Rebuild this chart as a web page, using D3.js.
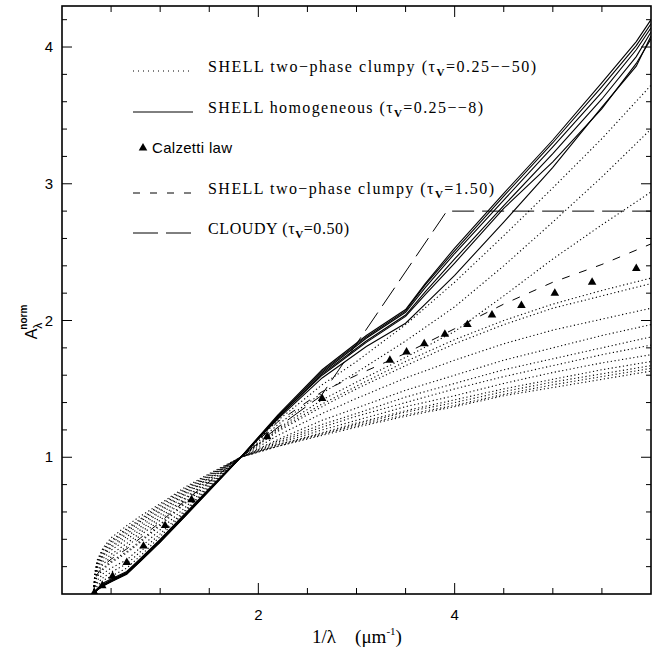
<!DOCTYPE html>
<html><head><meta charset="utf-8">
<script src="https://cdn.jsdelivr.net/npm/d3@7"></script>
<style>body{margin:0;background:#fff} svg{display:block}</style>
</head><body>
<svg id="c" width="660" height="651"></svg>
<script>
// ---------------- data ----------------
const xMajorTicks = [2, 4];
const xMinorTicks = [0.5, 1, 1.5, 2.5, 3, 3.5, 4.5, 5, 5.5];
const yMajorTicks = [1, 2, 3, 4];
const yMinorTicks = [0.2, 0.4, 0.6, 0.8, 1.2, 1.4, 1.6, 1.8, 2.2, 2.4, 2.6, 2.8, 3.2, 3.4, 3.6, 3.8, 4.2];

// SHELL two-phase clumpy, tau_V = 0.25 -- 50 (dotted)
const clumpyX = [0.32,0.335,0.36,0.42,0.5,0.66,0.8,1.0,1.25,1.5,1.82,2.2,2.65,3.0,3.5,4.0,4.5,5.0,5.5,6.0];
const clumpyCurves = [
  [0,0.03,0.06,0.10,0.13,0.19,0.28,0.42,0.60,0.78,1.0,1.27,1.53,1.70,1.97,2.28,2.62,2.97,3.33,3.72],
  [0,0.05,0.08,0.12,0.16,0.22,0.31,0.44,0.61,0.79,1.0,1.24,1.47,1.62,1.85,2.10,2.40,2.72,3.05,3.40],
  [0,0.06,0.10,0.15,0.19,0.25,0.34,0.47,0.63,0.80,1.0,1.21,1.42,1.55,1.73,1.92,2.18,2.45,2.70,2.94],
  [0,0.08,0.13,0.18,0.23,0.30,0.38,0.50,0.66,0.81,1.0,1.20,1.39,1.52,1.70,1.86,2.00,2.12,2.22,2.31],
  [0,0.08,0.13,0.19,0.24,0.31,0.39,0.51,0.67,0.82,1.0,1.19,1.37,1.50,1.67,1.83,1.97,2.09,2.18,2.27],
  [0,0.10,0.16,0.22,0.27,0.345,0.43,0.54,0.69,0.83,1.0,1.16,1.32,1.43,1.58,1.71,1.83,1.93,2.01,2.09],
  [0,0.11,0.17,0.24,0.29,0.37,0.45,0.56,0.70,0.84,1.0,1.13,1.27,1.36,1.49,1.60,1.71,1.80,1.89,1.97],
  [0,0.12,0.19,0.26,0.32,0.40,0.47,0.58,0.72,0.85,1.0,1.12,1.24,1.32,1.44,1.54,1.64,1.72,1.80,1.88],
  [0,0.13,0.20,0.28,0.34,0.42,0.49,0.60,0.73,0.85,1.0,1.11,1.22,1.30,1.40,1.50,1.59,1.67,1.75,1.82],
  [0,0.13,0.21,0.29,0.35,0.44,0.51,0.61,0.74,0.86,1.0,1.10,1.20,1.27,1.37,1.45,1.54,1.62,1.69,1.75],
  [0,0.14,0.22,0.30,0.37,0.455,0.53,0.625,0.75,0.865,1.0,1.09,1.18,1.25,1.34,1.42,1.50,1.57,1.64,1.70],
  [0,0.15,0.23,0.32,0.38,0.47,0.54,0.64,0.76,0.87,1.0,1.09,1.17,1.24,1.33,1.40,1.48,1.55,1.61,1.67],
  [0,0.15,0.24,0.33,0.39,0.48,0.55,0.65,0.77,0.875,1.0,1.08,1.17,1.23,1.31,1.38,1.46,1.53,1.59,1.65],
  [0,0.16,0.25,0.34,0.41,0.50,0.57,0.66,0.78,0.88,1.0,1.08,1.16,1.22,1.30,1.37,1.45,1.51,1.57,1.63]
];

// SHELL homogeneous, tau_V = 0.25 -- 8 (solid)
const homoX = [0.32,0.36,0.42,0.5,0.66,0.8,1.0,1.25,1.5,1.82,2.2,2.65,3.1,3.5,3.7,4.0,4.5,5.0,5.5,5.85,6.0];
const homoCurves = [
  [0,0.04,0.08,0.11,0.165,0.26,0.40,0.585,0.77,1.0,1.31,1.64,1.89,2.08,2.27,2.53,2.93,3.32,3.74,4.04,4.20],
  [0,0.04,0.07,0.10,0.16,0.255,0.395,0.58,0.77,1.0,1.30,1.63,1.88,2.07,2.26,2.51,2.91,3.30,3.71,4.01,4.17],
  [0,0.03,0.07,0.10,0.155,0.25,0.39,0.575,0.765,1.0,1.30,1.62,1.87,2.06,2.24,2.49,2.88,3.27,3.67,3.98,4.14],
  [0,0.03,0.06,0.095,0.15,0.245,0.385,0.57,0.76,1.0,1.29,1.61,1.85,2.04,2.21,2.45,2.84,3.22,3.62,3.93,4.11],
  [0,0.03,0.06,0.09,0.15,0.24,0.38,0.565,0.76,1.0,1.29,1.60,1.84,2.03,2.19,2.42,2.82,3.16,3.55,3.88,4.06],
  [0,0.03,0.06,0.09,0.145,0.24,0.38,0.565,0.755,1.0,1.28,1.58,1.81,1.98,2.12,2.33,2.72,3.12,3.56,3.86,4.08]
];

// SHELL two-phase clumpy, tau_V = 1.50 (short dashes)
const clumpy150Y = [0,0.09,0.145,0.205,0.255,0.33,0.41,0.525,0.68,0.82,1.0,1.26,1.48,1.60,1.76,1.94,2.12,2.28,2.41,2.56];

// CLOUDY, tau_V = 0.50 (long dashes)
const cloudyX = [1.82, 2.2, 2.64, 3.92, 6.0];
const cloudyY = [1.0, 1.22, 1.45, 2.80, 2.80];

// Calzetti law (triangles)
const calzettiX = [0.33,0.41,0.515,0.66,0.83,1.05,1.32,2.09,2.65,3.34,3.51,3.69,3.90,4.13,4.38,4.68,5.02,5.40,5.85];
const calzettiY = [0.01,0.06,0.13,0.23,0.35,0.50,0.69,1.15,1.43,1.71,1.77,1.83,1.90,1.97,2.04,2.11,2.20,2.28,2.38];

// legend
const legendLabels = [
  {kind:"dot",  pre:"SHELL two\u2212phase clumpy (\u03c4", post:"=0.25\u2212\u221250)", len:328},
  {kind:"solid",pre:"SHELL homogeneous (\u03c4", post:"=0.25\u2212\u22128)", len:275},
  {kind:"tri",  text:"Calzetti law", len:80},
  {kind:"dash", pre:"SHELL two\u2212phase clumpy (\u03c4", post:"=1.50)", len:286},
  {kind:"long", pre:"CLOUDY (\u03c4", post:"=0.50)", len:141}
];

// ---------------- drawing ----------------
const svg = d3.select("#c");
const L = 62, R = 651, T = 6, B = 594;
const x = d3.scaleLinear().domain([0, 6]).range([L, R]);
const y = d3.scaleLinear().domain([0, 4.3]).range([B, T]);

const dash = {dot:"1.2 2.6", dash:"8 10", long:"22 8"};

svg.append("clipPath").attr("id","clip").append("rect")
  .attr("x",L).attr("y",T).attr("width",R-L).attr("height",B-T);
const g = svg.append("g").attr("clip-path","url(#clip)");
const line = d3.line().x(d=>x(d[0])).y(d=>y(d[1]));

clumpyCurves.forEach(c => {
  g.append("path").attr("d", line(clumpyX.map((v,i)=>[v,c[i]])))
    .attr("fill","none").attr("stroke","#000").attr("stroke-width",1.1)
    .attr("stroke-dasharray",dash.dot);
});
homoCurves.forEach(c => {
  g.append("path").attr("d", line(homoX.map((v,i)=>[v,c[i]])))
    .attr("fill","none").attr("stroke","#000").attr("stroke-width",1.1);
});
g.append("path").attr("d", line(clumpyX.map((v,i)=>[v,clumpy150Y[i]])))
  .attr("fill","none").attr("stroke","#000").attr("stroke-width",1)
  .attr("stroke-dasharray",dash.dash);
g.append("path").attr("d", line(cloudyX.map((v,i)=>[v,cloudyY[i]])))
  .attr("fill","none").attr("stroke","#000").attr("stroke-width",1)
  .attr("stroke-dasharray",dash.long);

const tri = d3.symbol().type(d3.symbolTriangle).size(32);
g.selectAll(".tri").data(calzettiX.map((v,i)=>[v,calzettiY[i]])).enter()
  .append("path").attr("d",tri)
  .attr("transform",d=>`translate(${x(d[0])},${y(d[1])})`).attr("fill","#000");

// frame and ticks
svg.append("rect").attr("x",L).attr("y",T).attr("width",R-L).attr("height",B-T)
  .attr("fill","none").attr("stroke","#000").attr("stroke-width",1.6);
const ax = svg.append("g").attr("stroke","#000").attr("stroke-width",1);
function xt(v,len){
  ax.append("line").attr("x1",x(v)).attr("x2",x(v)).attr("y1",B).attr("y2",B-len);
  ax.append("line").attr("x1",x(v)).attr("x2",x(v)).attr("y1",T).attr("y2",T+len);
}
function yt(v,len){
  ax.append("line").attr("y1",y(v)).attr("y2",y(v)).attr("x1",L).attr("x2",L+len);
  ax.append("line").attr("y1",y(v)).attr("y2",y(v)).attr("x1",R).attr("x2",R-len);
}
xMajorTicks.forEach(v=>xt(v,11)); xMinorTicks.forEach(v=>xt(v,6));
yMajorTicks.forEach(v=>yt(v,10)); yMinorTicks.forEach(v=>yt(v,5));

const sans = "'Liberation Sans', Arial, sans-serif";
const serif = "'Liberation Serif', 'Times New Roman', serif";
svg.selectAll(".xl").data(xMajorTicks).enter().append("text")
  .attr("x",d=>x(d)).attr("y",620).attr("text-anchor","middle")
  .attr("font-family",sans).attr("font-size",15).text(d=>d);
svg.selectAll(".yl").data(yMajorTicks).enter().append("text")
  .attr("x",53).attr("y",d=>y(d)+5).attr("text-anchor","end")
  .attr("font-family",sans).attr("font-size",15).text(d=>d);

// axis titles
const xt1 = svg.append("text").attr("x",357).attr("y",643).attr("text-anchor","middle")
  .attr("font-family",serif).attr("font-size",19).style("white-space","pre")
  .attr("xml:space","preserve");
xt1.append("tspan").text("1/\u03bb    (\u03bcm");
xt1.append("tspan").attr("dy",-8).attr("font-size",11).text("-1");
xt1.append("tspan").attr("dy",8).text(")");

const yt1 = svg.append("text").attr("transform","translate(37,322) rotate(-90)")
  .attr("text-anchor","middle").attr("font-family",sans).attr("font-size",16);
yt1.append("tspan").text("A");
yt1.append("tspan").attr("dy",5).attr("font-size",12).text("\u03bb");
yt1.append("tspan").attr("dx",-7).attr("dy",-15).attr("font-size",10).attr("font-weight","bold").text("norm");

// legend
const rowsY = [71, 112, 152, 193, 233];
legendLabels.forEach((d,i)=>{
  const yy = rowsY[i];
  if (d.kind === "tri") {
    svg.append("path").attr("d",tri).attr("transform",`translate(143,${yy-4})`).attr("fill","#000");
    svg.append("text").attr("x",152).attr("y",yy+1).attr("font-family",sans).attr("font-size",15)
      .attr("textLength",d.len).attr("lengthAdjust","spacing").text(d.text);
    return;
  }
  const ln = svg.append("line").attr("x1",133).attr("x2",193).attr("y1",yy).attr("y2",yy)
    .attr("stroke","#000").attr("stroke-width",1);
  if (d.kind==="dot") ln.attr("stroke-dasharray","1 4");
  if (d.kind==="dash") ln.attr("stroke-dasharray","7 10");
  if (d.kind==="long") ln.attr("stroke-dasharray","25 8");
  const t = svg.append("text").attr("x",208).attr("y",yy+1).attr("font-family",serif).attr("font-size",16)
    .attr("textLength",d.len).attr("lengthAdjust","spacing");
  t.append("tspan").text(d.pre);
  t.append("tspan").attr("dy",4).attr("font-size",11).attr("font-weight","bold").text("V");
  t.append("tspan").attr("dy",-4).text(d.post);
});
</script>
</body></html>
